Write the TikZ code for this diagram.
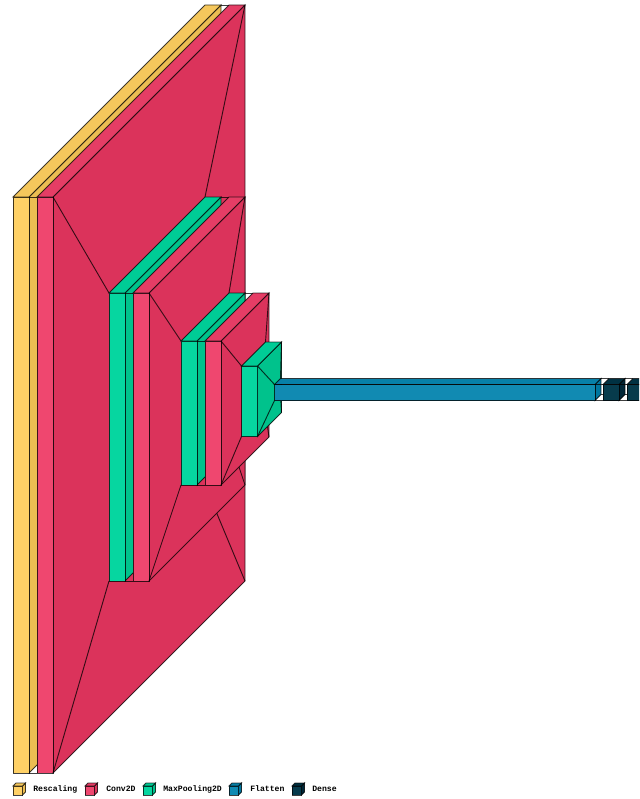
\documentclass[tikz,border=0pt]{standalone}
\usepackage{fontspec}
\setmonofont{Liberation Mono}

% Front, top and side shades of each layer type
\definecolor{yellowfront}{HTML}{FFD166}
\definecolor{yellowtop}{HTML}{F5C75C}
\definecolor{yellowside}{HTML}{EBBD52}
\definecolor{pinkfront}{HTML}{EF476F}
\definecolor{pinktop}{HTML}{E53D65}
\definecolor{pinkside}{HTML}{DB335B}
\definecolor{greenfront}{HTML}{06D6A0}
\definecolor{greentop}{HTML}{00CC96}
\definecolor{greenside}{HTML}{00C28C}
\definecolor{bluefront}{HTML}{118AB2}
\definecolor{bluetop}{HTML}{0780A8}
\definecolor{blueside}{HTML}{00769E}
\definecolor{darkfront}{HTML}{073B4C}
\definecolor{darktop}{HTML}{003142}
\definecolor{darkside}{HTML}{002738}

\tikzset{
    edgeline/.style={draw=black, draw opacity=0.75, line width=0.7pt, line join=miter},
    legendtext/.style={anchor=west, inner sep=0pt, font=\ttfamily\bfseries\fontsize{6.1}{7}\selectfont}
}

% name, x, y, width, height, depth
\newcommand{\layercorners}[6]{
    \coordinate (#1ftl) at ({#2},{#3});
    \coordinate (#1ftr) at ({#2+#4},{#3});
    \coordinate (#1fbl) at ({#2},{#3+#5});
    \coordinate (#1fbr) at ({#2+#4},{#3+#5});
    \coordinate (#1btl) at ({#2+#6},{#3-#6});
    \coordinate (#1btr) at ({#2+#4+#6},{#3-#6});
    \coordinate (#1bbl) at ({#2+#6},{#3+#5-#6});
    \coordinate (#1bbr) at ({#2+#4+#6},{#3+#5-#6});
}
% name, colour
\newcommand{\layerbox}[2]{
    \draw[edgeline, fill=#2side] (#1ftr) -- (#1btr) -- (#1bbr) -- (#1fbr) -- cycle;
    \draw[edgeline, fill=#2top] (#1ftl) -- (#1btl) -- (#1btr) -- (#1ftr) -- cycle;
    \draw[edgeline, fill=#2front] (#1ftl) -- (#1ftr) -- (#1fbr) -- (#1fbl) -- cycle;
}
% lines from the right end of one layer to the left end of the next
\newcommand{\funnel}[2]{
    \draw[edgeline] (#1ftr) -- (#2ftl);
    \draw[edgeline] (#1fbr) -- (#2fbl);
    \draw[edgeline] (#1btr) -- (#2btl);
    \draw[edgeline] (#1bbr) -- (#2bbl);
}

\begin{document}
\begin{tikzpicture}[x=0.75pt, y=-0.75pt]
    \clip (0,0) rectangle (639,799);

    % Layer corners
    \layercorners{rescale}{13}{197}{16}{576}{192}
    \layercorners{convA}{37}{197}{16}{576}{192}
    \layercorners{poolA}{109}{293}{16}{288}{96}
    \layercorners{convB}{133}{293}{16}{288}{96}
    \layercorners{poolB}{181}{341}{16}{144}{48}
    \layercorners{convC}{205}{341}{16}{144}{48}
    \layercorners{poolC}{241.5}{366}{16}{70.5}{24}
    \layercorners{flat}{274.5}{384.5}{320.5}{16}{6}
    \layercorners{denseA}{603}{384.5}{16}{16}{6}
    \layercorners{denseB}{627}{384.5}{16}{16}{6}

    % Draw layers and funnels
    \layerbox{rescale}{yellow}
    \funnel{rescale}{convA}
    \layerbox{convA}{pink}
    \funnel{convA}{poolA}
    \layerbox{poolA}{green}
    \funnel{poolA}{convB}
    \layerbox{convB}{pink}
    \funnel{convB}{poolB}
    \layerbox{poolB}{green}
    \funnel{poolB}{convC}
    \layerbox{convC}{pink}
    \funnel{convC}{poolC}
    \layerbox{poolC}{green}
    \funnel{poolC}{flat}
    \layerbox{flat}{blue}
    \funnel{flat}{denseA}
    \layerbox{denseA}{dark}
    \funnel{denseA}{denseB}
    \layerbox{denseB}{dark}

    % Legend
    \layercorners{keyA}{13}{786}{9.5}{9}{3}
    \layerbox{keyA}{yellow}
    \node[legendtext] (rescaling) at (33,789) {Rescaling};
    \layercorners{keyB}{85}{786}{9.5}{9}{3}
    \layerbox{keyB}{pink}
    \node[legendtext] (conv) at (106,789) {Conv2D};
    \layercorners{keyC}{143}{786}{9.5}{9}{3}
    \layerbox{keyC}{green}
    \node[legendtext] (pool) at (163,789) {MaxPooling2D};
    \layercorners{keyD}{229}{786}{9.5}{9}{3}
    \layerbox{keyD}{blue}
    \node[legendtext] (flatten) at (250,789) {Flatten};
    \layercorners{keyE}{292}{786}{9.5}{9}{3}
    \layerbox{keyE}{dark}
    \node[legendtext] (dense) at (312,789) {Dense};
\end{tikzpicture}
\end{document}
